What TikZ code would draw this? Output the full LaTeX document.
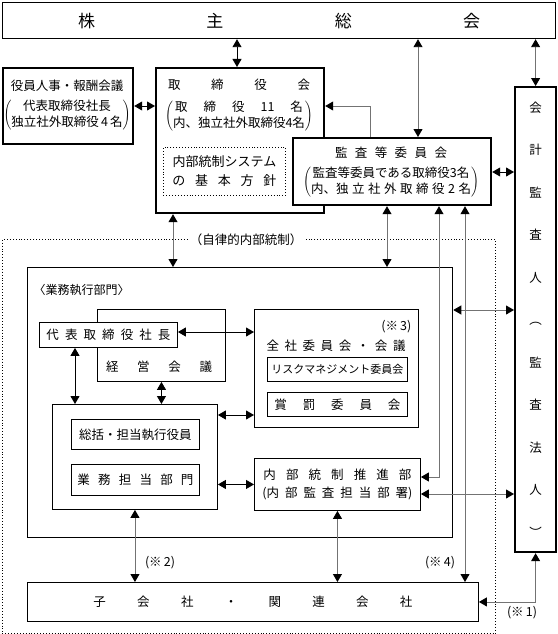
\documentclass[tikz,border=0pt]{standalone}
\usepackage{fontspec}
\setmainfont{Noto Sans CJK JP}
\usetikzlibrary{arrows.meta}
\tikzset{
  box/.style={draw, line width=0.9pt, fill=white, inner sep=0pt, anchor=north west},
  bbox/.style={box, line width=2.2pt},
  dbox/.style={box, dotted, fill=none},
  txt/.style={inner sep=0.5pt},
  lnk/.style={line width=0.9pt, <->},
  glnk/.style={lnk, draw=black!55},
  >={Triangle[length=8pt,width=9pt,color=black]},
}
\newcommand{\sprd}[2]{\makebox[#1][s]{#2}}
\newcommand{\parlines}[2]{$\delimiterfactor=800\delimitershortfall=8pt\left(\begin{tabular}{@{}c@{}}#1\\#2\end{tabular}\right)$}
\renewcommand{\arraystretch}{0.92}

\begin{document}
\begin{tikzpicture}[x=1pt, y=-1pt, font=\fontsize{12.5}{18}\selectfont]
	\useasboundingbox (0,0) rectangle (557,634);

	% shareholders
	\node[box, line width=1.2pt, minimum width=553pt, minimum height=36pt, font=\fontsize{17}{20}\selectfont] (sh) at (2,2) {\sprd{402pt}{株 主 総 会}};

	% board side
	\node[bbox, minimum width=130pt, minimum height=76pt] (yakuin) at (2,67) {};
	\node[txt] (yak1) at (67,86) {役員人事・報酬会議};
	\node[txt] (yak2) at (67,115) {\parlines{代表取締役社長}{独立社外取締役\,4\,名}};

	\node[bbox, minimum width=168pt, minimum height=145pt] (tori) at (155,67) {};
	\node[txt] (tor1) at (239,85) {\sprd{142pt}{取 締 役 会}};
	\node[txt] (tor2) at (239,116) {\parlines{\sprd{128pt}{取 締 役 11 名}}{内、独立社外取締役4名}};
	\node[dbox, minimum width=122pt, minimum height=48pt, align=center, font=\fontsize{13}{19}\selectfont] (naibu) at (163,147) {内部統制システム\\\sprd{104pt}{の 基 本 方 針}};

	\node[bbox, minimum width=198pt, minimum height=67pt] (kansa) at (292,137) {};
	\node[txt] (kan1) at (391,153) {\sprd{112pt}{監 査 等 委 員 会}};
	\node[txt] (kan2) at (391,182) {\parlines{監査等委員である取締役3名}{\sprd{160pt}{内、独 立 社 外 取 締 役 2 名}}};

	\node[bbox, minimum width=41pt, minimum height=465pt, align=center, font=\fontsize{12.5}{42.5}\selectfont] (kaikei) at (514,86) {会\\計\\監\\査\\人\\︵\\監\\査\\法\\人\\︶};

	% internal control
	\node[dbox, minimum width=493pt, minimum height=394pt] (jiritsu) at (2,239) {};
	\node[fill=white, inner sep=2pt] (jlabel) at (246,240) {（自律的内部統制）};

	\node[box, line width=1.3pt, minimum width=425pt, minimum height=270pt] (gyomu) at (27,267) {};
	\node[txt, anchor=west, font=\fontsize{12}{14}\selectfont] (glabel) at (33,290) {〈業務執行部門〉};

	\node[box, minimum width=128pt, minimum height=72pt] (keiei) at (97,309) {};
	\node[txt] (keit) at (159,367) {\sprd{106pt}{経 営 会 議}};
	\node[box, minimum width=138pt, minimum height=25pt] (daihyo) at (39,322) {\sprd{124pt}{代 表 取 締 役 社 長}};

	\node[box, minimum width=164pt, minimum height=118pt] (zensha) at (254,309) {};
	\node[txt, anchor=east] (note3) at (412,327) {(※\,3)};
	\node[txt] (zent) at (336,346) {\sprd{139pt}{全 社 委 員 会 ・ 会 議}};
	\node[box, minimum width=140pt, minimum height=24pt, font=\fontsize{11}{13}\selectfont] (risk) at (267,357) {リスクマネジメント委員会};
	\node[box, minimum width=140pt, minimum height=24pt] (shobatsu) at (267,392) {\sprd{126pt}{賞 罰 委 員 会}};

	\node[box, minimum width=165pt, minimum height=105pt] (sokatsu) at (52,404) {};
	\node[box, minimum width=128pt, minimum height=30pt] (shikko) at (71,419) {総括・担当執行役員};
	\node[box, minimum width=128pt, minimum height=31pt] (tanto) at (71,464) {\sprd{116pt}{業 務 担 当 部 門}};

	\node[box, minimum width=166pt, minimum height=52pt, align=center] (suishin) at (254,458) {\sprd{148pt}{内 部 統 制 推 進 部}\\\sprd{150pt}{(内 部 監 査 担 当 部 署)}};

	\node[box, minimum width=451pt, minimum height=39pt] (ko) at (27,582) {\sprd{319pt}{子 会 社 ・ 関 連 会 社}};

	\node[txt] (note2) at (160,563) {(※\,2)};
	\node[txt] (note4) at (440,563) {(※\,4)};
	\node[txt] (note1) at (522,613) {(※\,1)};

	% connector positions
	\coordinate (xa) at (237,0);
	\coordinate (xb) at (418,0);
	\coordinate (xc) at (370,0);
	\coordinate (xd) at (173,0);
	\coordinate (xe) at (387,0);
	\coordinate (xf) at (439,0);
	\coordinate (xg) at (465,0);
	\coordinate (xh) at (75,0);
	\coordinate (ya) at (0,106);
	\coordinate (yb) at (0,172);
	\coordinate (yc) at (0,310);
	\coordinate (yd) at (0,477);
	\coordinate (ye) at (0,494);
	\coordinate (yf) at (0,332);
	\coordinate (yg) at (0,415);

	\draw[lnk ](sh.south -| xa) -- (tori.north -| xa);
	\draw[glnk](sh.south -| xb) -- (kansa.north -| xb);
	\draw[glnk](sh.south -| kaikei.north) -- (kaikei.north);
	\draw[lnk ](yakuin.east |- ya) -- (tori.west |- ya);
	\draw[glnk, ->](kansa.north -| xc) |- (tori.east |- ya);
	\draw[lnk ](kansa.east |- yb) -- (kaikei.west |- yb);
	\draw[glnk](tori.south -| xd) -- (gyomu.north -| xd);
	\draw[glnk](kansa.south -| xe) -- (gyomu.north -| xe);
	\draw[glnk](kansa.south -| xf) |- (suishin.east |- yd);
	\draw[glnk](kansa.south -| xg) -- (ko.north -| xg);
	\draw[glnk](gyomu.east |- yc) -- (kaikei.west |- yc);
	\draw[glnk](suishin.east |- ye) -- (kaikei.west |- ye);
	\draw[glnk](kaikei.south) |- (ko.east);
	\draw[lnk ](daihyo.east |- yf) -- (zensha.west |- yf);
	\draw[lnk ](daihyo.south -| xh) -- (sokatsu.north -| xh);
	\draw[lnk ](keiei.south) -- (sokatsu.north -| keiei.south);
	\draw[lnk ](sokatsu.east |- yg) -- (zensha.west |- yg);
	\draw[lnk ](sokatsu.east |- suishin.west) -- (suishin.west);
	\draw[glnk](sokatsu.south) -- (ko.north -| sokatsu.south);
	\draw[glnk](suishin.south) -- (ko.north -| suishin.south);
\end{tikzpicture}
\end{document}
